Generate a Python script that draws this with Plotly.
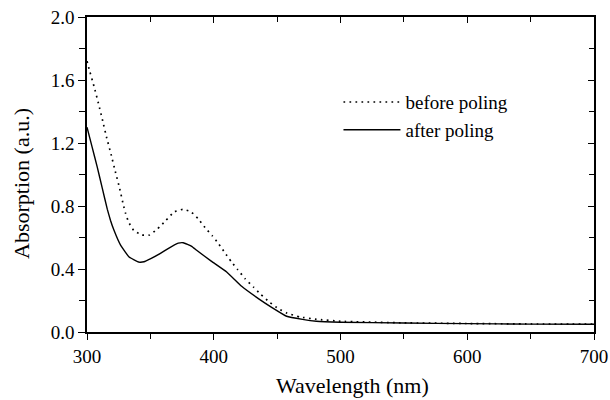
import plotly.graph_objects as go

# Data
wl_before = [300, 302.1, 305.8, 309.2, 312.4, 315.5, 319, 322.3, 325.8, 328.7, 330.5, 332.8, 336.8, 343.1, 349.4, 355.8,
             362.3, 368.6, 375.5, 382, 387.8, 393.1, 398.9, 404.1, 408.9, 413.6, 418.9, 424.7, 431.2, 437.3, 444.4,
             451, 457.5, 468, 481.1, 500, 550, 600, 650, 700]
abs_before = [1.72, 1.657, 1.552, 1.446, 1.34, 1.234, 1.128, 1.02, 0.91, 0.806, 0.752, 0.698, 0.646, 0.616, 0.616, 0.656,
              0.709, 0.762, 0.779, 0.764, 0.718, 0.663, 0.61, 0.557, 0.502, 0.449, 0.396, 0.339, 0.286, 0.237, 0.187,
              0.148, 0.121, 0.095, 0.081, 0.068, 0.058, 0.054, 0.051, 0.05]

wl_after = [300, 304, 308, 312, 316, 318.5, 321.3, 326.6, 333.2, 341.1, 345, 350.3, 357.6, 364, 372, 376, 382.6, 386.5,
            398, 410.2, 422, 435.2, 446, 457.5, 470, 481, 500, 550, 600, 650, 700]
abs_after = [1.30, 1.175, 1.05, 0.915, 0.78, 0.71, 0.646, 0.55, 0.476, 0.444, 0.446, 0.466, 0.498, 0.53, 0.564, 0.567, 0.544, 0.519,
             0.45, 0.381, 0.29, 0.212, 0.155, 0.10, 0.08, 0.068, 0.062, 0.057, 0.053, 0.05, 0.049]

x_range = [300, 700]
y_range = [0.0, 2.0]
x_title = "Wavelength (nm)"
y_title = "Absorption (a.u.)"
font_family = "Times New Roman, Liberation Serif, serif"

fig = go.Figure()
fig.add_trace(go.Scatter(x=wl_before, y=abs_before, mode="lines", name="before poling",
                         line=dict(color="black", width=1.7, dash="1.7px,4.3px", shape="spline", smoothing=0.3)))
fig.add_trace(go.Scatter(x=wl_after, y=abs_after, mode="lines", name="after poling",
                         line=dict(color="black", width=1.4, shape="spline", smoothing=0.3)))
# invisible trace to anchor mirror axes
fig.add_trace(go.Scatter(x=wl_after, y=abs_after, xaxis="x2", yaxis="y2", mode="lines",
                         line=dict(color="rgba(0,0,0,0)"), showlegend=False, hoverinfo="skip"))

axis_common = dict(showgrid=False, zeroline=False, showline=True, linecolor="black", linewidth=1.6,
                   tickcolor="black", tickwidth=1.2, automargin=False)

fig.update_layout(
    width=610, height=400,
    margin=dict(l=87, r=16, t=17, b=68),
    paper_bgcolor="white", plot_bgcolor="white",
    font=dict(family=font_family, size=19, color="black"),
    xaxis=dict(range=x_range, tickvals=[300, 400, 500, 600, 700], ticks="outside", ticklen=6,
               minor=dict(tickvals=[350, 450, 550, 650], ticks="outside", ticklen=5, tickcolor="black"),
               **axis_common),
    yaxis=dict(range=y_range, tickvals=[0.0, 0.4, 0.8, 1.2, 1.6, 2.0], tickformat=".1f", ticks="outside", ticklen=7,
               minor=dict(tickvals=[0.2, 0.6, 1.0, 1.4, 1.8], ticks="outside", ticklen=6, tickcolor="black"),
               **axis_common),
    xaxis2=dict(range=x_range, overlaying="x", side="top", anchor="y", tickvals=[300, 400, 500, 600, 700],
                ticks="inside", ticklen=6, showticklabels=False,
                minor=dict(tickvals=[350, 450, 550, 650], ticks="inside", ticklen=5, tickcolor="black"),
                **axis_common),
    yaxis2=dict(range=y_range, overlaying="y", side="right", anchor="x", tickvals=[0.0, 0.4, 0.8, 1.2, 1.6, 2.0],
                ticks="inside", ticklen=6, showticklabels=False,
                minor=dict(tickvals=[0.2, 0.6, 1.0, 1.4, 1.8], ticks="inside", ticklen=5, tickcolor="black"),
                **axis_common),
    legend=dict(x=0.496, y=0.79, xanchor="left", yanchor="top", bgcolor="rgba(0,0,0,0)",
                font=dict(family=font_family, size=19), itemwidth=57, tracegroupgap=0),
    showlegend=True,
    annotations=[
        dict(text=x_title, xref="paper", yref="paper", x=0.523, y=0, xanchor="center", yanchor="middle",
             yshift=-53, showarrow=False, font=dict(family=font_family, size=22)),
        dict(text=y_title, xref="paper", yref="paper", x=0, y=0.47, xanchor="center", yanchor="middle",
             xshift=-65, textangle=-90, showarrow=False, font=dict(family=font_family, size=22)),
    ],
)

fig.write_html("out.html")
